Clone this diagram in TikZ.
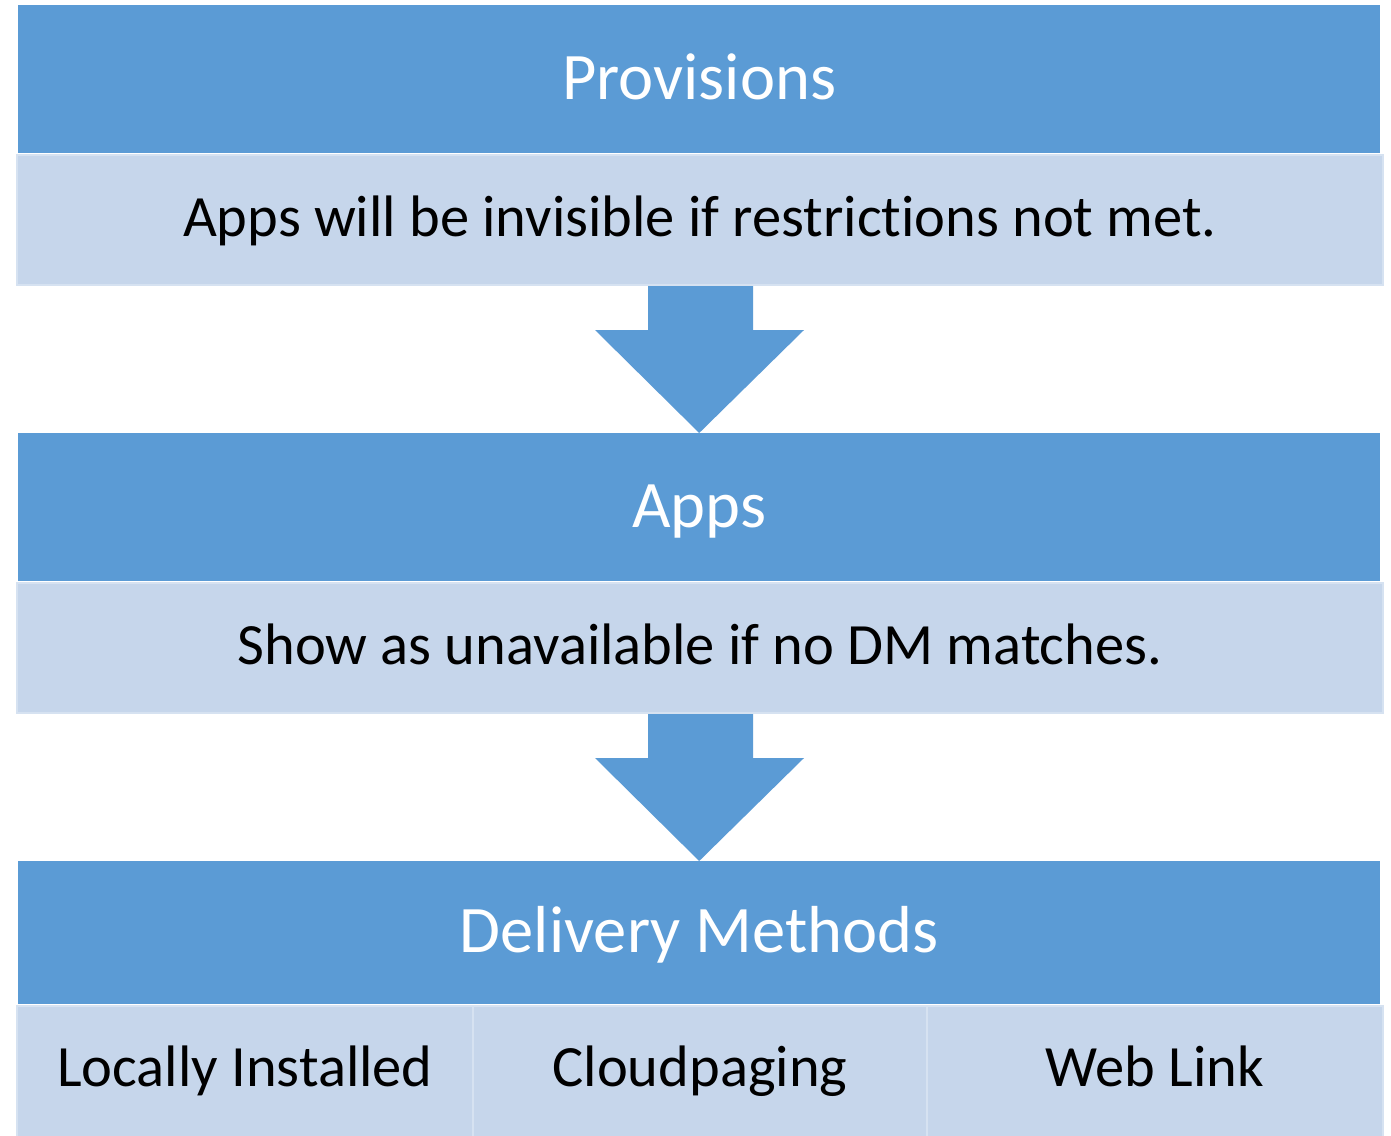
\documentclass[tikz,border=0pt]{standalone}
\usepackage{fontspec}
\setmainfont{Carlito}[Ligatures={NoCommon,NoRare,NoContextual}]
\usetikzlibrary{calc}
\definecolor{hdrblue}{HTML}{5B9BD5}
\definecolor{bandblue}{HTML}{C6D6EB}
\definecolor{bandedge}{HTML}{D6E2F1}
\begin{document}
\begin{tikzpicture}[x=1pt,y=-1pt,
  hdr/.style={fill=hdrblue, draw=none, inner sep=0pt, anchor=north west,
    minimum width=1362pt},
  band/.style={fill=bandblue, draw=bandedge, line width=2pt, inner sep=0pt, anchor=north west},
  hdrtext/.style={text=white, font=\fontsize{66.5}{80}\selectfont, anchor=base, inner sep=0pt},
  bodytext/.style={text=black, font=\fontsize{58.5}{70}\selectfont, anchor=base, inner sep=0pt},
  flow/.style={fill=hdrblue, draw=none}]
\useasboundingbox[fill=white] (0,0) rectangle (1391,1135);
% level 1
\node[hdr, minimum height=148pt] (h1) at (18,5) {};
\node[band, minimum width=1366pt, minimum height=130pt] (b1) at (16,154) {};
\node[hdrtext] (t1) at ($(h1.center)+(0,20)$) {Provisions};
\node[bodytext] (s1) at ($(b1.center)+(0,16)$) {Apps will be invisible if restrict\kern0pt ions not met.};
% level 2
\node[hdr, minimum height=148pt] (h2) at (18,433) {};
\node[band, minimum width=1366pt, minimum height=130pt] (b2) at (16,582) {};
\node[hdrtext] (t2) at ($(h2.center)+(0,20)$) {Apps};
\node[bodytext] (s2) at ($(b2.center)+(0,16)$) {Show as unavailable if no DM matches.};
% level 3
\node[hdr, minimum height=143pt] (h3) at (18,861) {};
\node[band, minimum width=456pt, minimum height=131pt] (c1) at (16,1005) {};
\node[band, minimum width=454pt, minimum height=131pt] (c2) at (472,1005) {};
\node[band, minimum width=456pt, minimum height=131pt] (c3) at (926,1005) {};
\node[hdrtext] (t3) at ($(h3.center)+(0,20)$) {Delivery Methods};
\node[bodytext] (d1) at ($(c1.center)+(0,15)$) {Locally Installed};
\node[bodytext] (d2) at ($(c2.center)+(0,15)$) {Cloudpaging};
\node[bodytext] (d3) at ($(c3.center)+(0,15)$) {Web Link};
% arrows
\fill[flow] ($(b1.south)+(-52,0)$) -- ($(b1.south)+(53,0)$) -- ($(b1.south)+(53,44)$)
  -- ($(b1.south)+(104,44)$) -- (h2.north) -- ($(b1.south)+(-105,44)$)
  -- ($(b1.south)+(-52,44)$) -- cycle;
\fill[flow] ($(b2.south)+(-52,0)$) -- ($(b2.south)+(53,0)$) -- ($(b2.south)+(53,44)$)
  -- ($(b2.south)+(104,44)$) -- (h3.north) -- ($(b2.south)+(-105,44)$)
  -- ($(b2.south)+(-52,44)$) -- cycle;
\end{tikzpicture}
\end{document}
